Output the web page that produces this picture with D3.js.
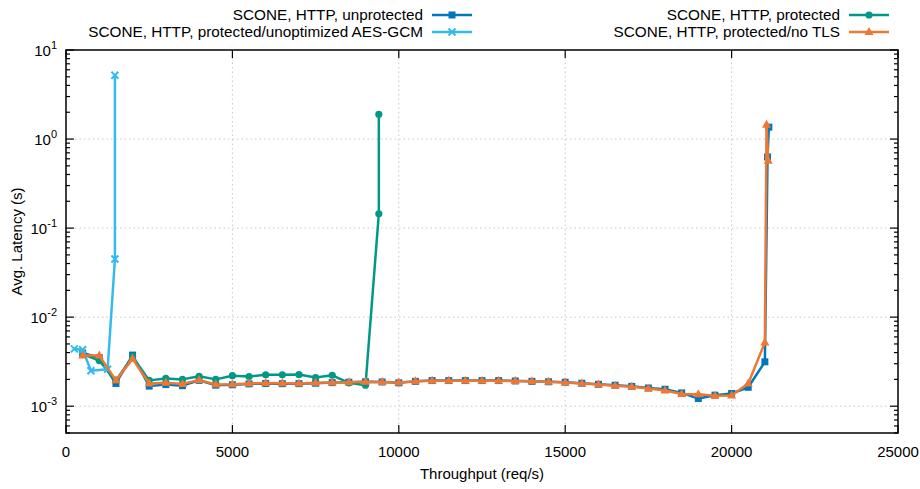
<!DOCTYPE html>
<html>
<head>
<meta charset="utf-8">
<script src="https://cdn.jsdelivr.net/npm/d3@7"></script>
<style>
  body { margin: 0; background: #fff; }
  svg { font-family: "Liberation Sans", Arial, sans-serif; }
</style>
</head>
<body>
<svg id="chart" width="920" height="489"></svg>
<script>
// throughput (req/s) and avg latency (s) for each series
const unprotectedX = [500, 1000, 1500, 2000, 2500, 3000, 3500, 4000, 4500, 5000, 5500, 6000, 6500, 7000, 7500, 8000, 8500, 9000, 9500, 10000, 10500, 11000, 11500, 12000, 12500, 13000, 13500, 14000, 14500, 15000, 15500, 16000, 16500, 17000, 17500, 18000, 18500, 19000, 19500, 20000, 20500, 21000, 21080, 21120];
const unprotectedY = [3.95e-3, 3.5e-3, 1.8e-3, 3.75e-3, 1.68e-3, 1.75e-3, 1.7e-3, 1.95e-3, 1.72e-3, 1.74e-3, 1.78e-3, 1.8e-3, 1.79e-3, 1.79e-3, 1.81e-3, 1.84e-3, 1.86e-3, 1.88e-3, 1.87e-3, 1.83e-3, 1.9e-3, 1.94e-3, 1.94e-3, 1.94e-3, 1.94e-3, 1.94e-3, 1.92e-3, 1.9e-3, 1.88e-3, 1.86e-3, 1.81e-3, 1.76e-3, 1.72e-3, 1.67e-3, 1.6e-3, 1.55e-3, 1.41e-3, 1.22e-3, 1.33e-3, 1.39e-3, 1.63e-3, 3.15e-3, 0.63, 1.36];

const protectedX = [500, 1000, 1500, 2000, 2500, 3000, 3500, 4000, 4500, 5000, 5500, 6000, 6500, 7000, 7500, 8000, 8500, 9000, 9400, 9400];
const protectedY = [3.85e-3, 3.25e-3, 1.95e-3, 3.6e-3, 1.95e-3, 2.05e-3, 2.0e-3, 2.17e-3, 2.0e-3, 2.2e-3, 2.15e-3, 2.25e-3, 2.25e-3, 2.27e-3, 2.1e-3, 2.22e-3, 1.83e-3, 1.72e-3, 0.145, 1.9];

const aesX = [250, 500, 750, 1250, 1470, 1470];
const aesY = [4.4e-3, 4.3e-3, 2.5e-3, 2.6e-3, 0.045, 5.2];

const noTlsX = [500, 1000, 1500, 2000, 2500, 3000, 3500, 4000, 4500, 5000, 5500, 6000, 6500, 7000, 7500, 8000, 8500, 9000, 9500, 10000, 10500, 11000, 11500, 12000, 12500, 13000, 13500, 14000, 14500, 15000, 15500, 16000, 16500, 17000, 17500, 18000, 18500, 19000, 19500, 20000, 20500, 21000, 21050, 21100];
const noTlsY = [3.7e-3, 3.7e-3, 1.95e-3, 3.4e-3, 1.8e-3, 1.83e-3, 1.78e-3, 1.97e-3, 1.75e-3, 1.76e-3, 1.8e-3, 1.82e-3, 1.81e-3, 1.8e-3, 1.83e-3, 1.85e-3, 1.86e-3, 1.88e-3, 1.87e-3, 1.84e-3, 1.9e-3, 1.93e-3, 1.93e-3, 1.93e-3, 1.93e-3, 1.93e-3, 1.92e-3, 1.9e-3, 1.88e-3, 1.85e-3, 1.8e-3, 1.75e-3, 1.7e-3, 1.65e-3, 1.58e-3, 1.5e-3, 1.37e-3, 1.36e-3, 1.31e-3, 1.32e-3, 1.8e-3, 5.2e-3, 1.45, 0.57];

const xTicks = [0, 5000, 10000, 15000, 20000, 25000];
const yDecades = [-3, -2, -1, 0, 1];

const series = [
  { name: "SCONE, HTTP, unprotected", xs: unprotectedX, ys: unprotectedY, color: "#0077bb", marker: "square" },
  { name: "SCONE, HTTP, protected", xs: protectedX, ys: protectedY, color: "#009988", marker: "circle" },
  { name: "SCONE, HTTP, protected/unoptimized AES-GCM", xs: aesX, ys: aesY, color: "#33bbee", marker: "cross" },
  { name: "SCONE, HTTP, protected/no TLS", xs: noTlsX, ys: noTlsY, color: "#ee7733", marker: "triangle" },
];

const svg = d3.select("#chart");
const margin = { top: 50, right: 22, bottom: 56, left: 66 };
const W = 920, H = 489;

const x = d3.scaleLinear().domain([0, 25000]).range([margin.left, W - margin.right]);
const y = d3.scaleLog().domain([0.0005, 10]).range([H - margin.bottom, margin.top]);

// grid
const grid = svg.append("g").attr("stroke", "#c8c8c8").attr("stroke-dasharray", "1.5,3");
xTicks.slice(1, -1).forEach((t) => {
  grid.append("line").attr("x1", x(t)).attr("x2", x(t)).attr("y1", y.range()[0]).attr("y2", y.range()[1]);
});
yDecades.slice(0, -1).forEach((d) => {
  grid.append("line").attr("x1", x.range()[0]).attr("x2", x.range()[1]).attr("y1", y(10 ** d)).attr("y2", y(10 ** d));
});

// ticks (inward, mirrored)
const ticks = svg.append("g").attr("stroke", "#000").attr("stroke-width", 1.2);
xTicks.forEach((t) => {
  ticks.append("line").attr("x1", x(t)).attr("x2", x(t)).attr("y1", y.range()[0]).attr("y2", y.range()[0] - 8);
  ticks.append("line").attr("x1", x(t)).attr("x2", x(t)).attr("y1", y.range()[1]).attr("y2", y.range()[1] + 8);
});
const yMinor = [];
[-4, -3, -2, -1, 0].forEach((d) => {
  for (let m = 2; m <= 9; m++) {
    const v = m * 10 ** d;
    if (v >= 0.0005 && v <= 10) yMinor.push(v);
  }
});
yDecades.forEach((d) => {
  const v = 10 ** d;
  ticks.append("line").attr("x1", x.range()[0]).attr("x2", x.range()[0] + 8).attr("y1", y(v)).attr("y2", y(v));
  ticks.append("line").attr("x1", x.range()[1]).attr("x2", x.range()[1] - 8).attr("y1", y(v)).attr("y2", y(v));
});
yMinor.forEach((v) => {
  ticks.append("line").attr("x1", x.range()[0]).attr("x2", x.range()[0] + 4).attr("y1", y(v)).attr("y2", y(v));
  ticks.append("line").attr("x1", x.range()[1]).attr("x2", x.range()[1] - 4).attr("y1", y(v)).attr("y2", y(v));
});

// border
svg.append("rect")
  .attr("x", x.range()[0]).attr("y", y.range()[1])
  .attr("width", x.range()[1] - x.range()[0]).attr("height", y.range()[0] - y.range()[1])
  .attr("fill", "none").attr("stroke", "#000").attr("stroke-width", 1.5);

// tick labels
svg.append("g").selectAll("text").data(xTicks).join("text")
  .attr("x", (d) => x(d)).attr("y", H - margin.bottom + 24)
  .attr("text-anchor", "middle").attr("font-size", 15).text((d) => d);

const yl = svg.append("g").selectAll("text").data(yDecades).join("text")
  .attr("x", x.range()[0] - 9).attr("y", (d) => y(10 ** d) + 6)
  .attr("text-anchor", "end").attr("font-size", 15);
yl.append("tspan").text("10");
yl.append("tspan").attr("dy", -7).attr("font-size", 11).text((d) => (d < 0 ? "-" + -d : d));

// axis titles
svg.append("text").attr("x", (x.range()[0] + x.range()[1]) / 2).attr("y", 479)
  .attr("text-anchor", "middle").attr("font-size", 15).text("Throughput (req/s)");
svg.append("text").attr("transform", `translate(22, ${(y.range()[0] + y.range()[1]) / 2}) rotate(-90)`)
  .attr("text-anchor", "middle").attr("font-size", 15).text("Avg. Latency (s)");

function drawMarker(g, type, cx, cy, color) {
  if (type === "square") {
    g.append("rect").attr("x", cx - 3.5).attr("y", cy - 3.5).attr("width", 7).attr("height", 7).attr("fill", color);
  } else if (type === "circle") {
    g.append("circle").attr("cx", cx).attr("cy", cy).attr("r", 3.6).attr("fill", color);
  } else if (type === "triangle") {
    g.append("path").attr("d", `M${cx},${cy - 5}L${cx + 4.5},${cy + 3}L${cx - 4.5},${cy + 3}Z`).attr("fill", color);
  } else {
    g.append("path").attr("d", `M${cx - 3.5},${cy - 3.5}L${cx + 3.5},${cy + 3.5}M${cx - 3.5},${cy + 3.5}L${cx + 3.5},${cy - 3.5}`)
      .attr("stroke", color).attr("stroke-width", 2);
  }
}

const line = d3.line().x((d) => x(d[0])).y((d) => y(d[1]));
const plot = svg.append("g");
series.forEach((s) => {
  const pts = s.xs.map((v, i) => [v, s.ys[i]]);
  const g = plot.append("g");
  g.append("path").datum(pts).attr("d", line).attr("fill", "none")
    .attr("stroke", s.color).attr("stroke-width", 2.5).attr("stroke-linejoin", "round");
  pts.forEach((p) => drawMarker(g, s.marker, x(p[0]), y(p[1]), s.color));
});

// legend, two columns
const legendPos = [
  { tx: 423, sx: 432, yy: 15 },
  { tx: 840, sx: 849, yy: 15 },
  { tx: 423, sx: 432, yy: 32 },
  { tx: 840, sx: 849, yy: 32 },
];
series.forEach((s, i) => {
  const p = legendPos[i];
  const g = svg.append("g");
  g.append("text").attr("x", p.tx).attr("y", p.yy + 5).attr("text-anchor", "end")
    .attr("font-size", 15.3).text(s.name);
  g.append("line").attr("x1", p.sx).attr("x2", p.sx + 40).attr("y1", p.yy).attr("y2", p.yy)
    .attr("stroke", s.color).attr("stroke-width", 2.5);
  drawMarker(g, s.marker, p.sx + 20, p.yy, s.color);
});
</script>
</body>
</html>
